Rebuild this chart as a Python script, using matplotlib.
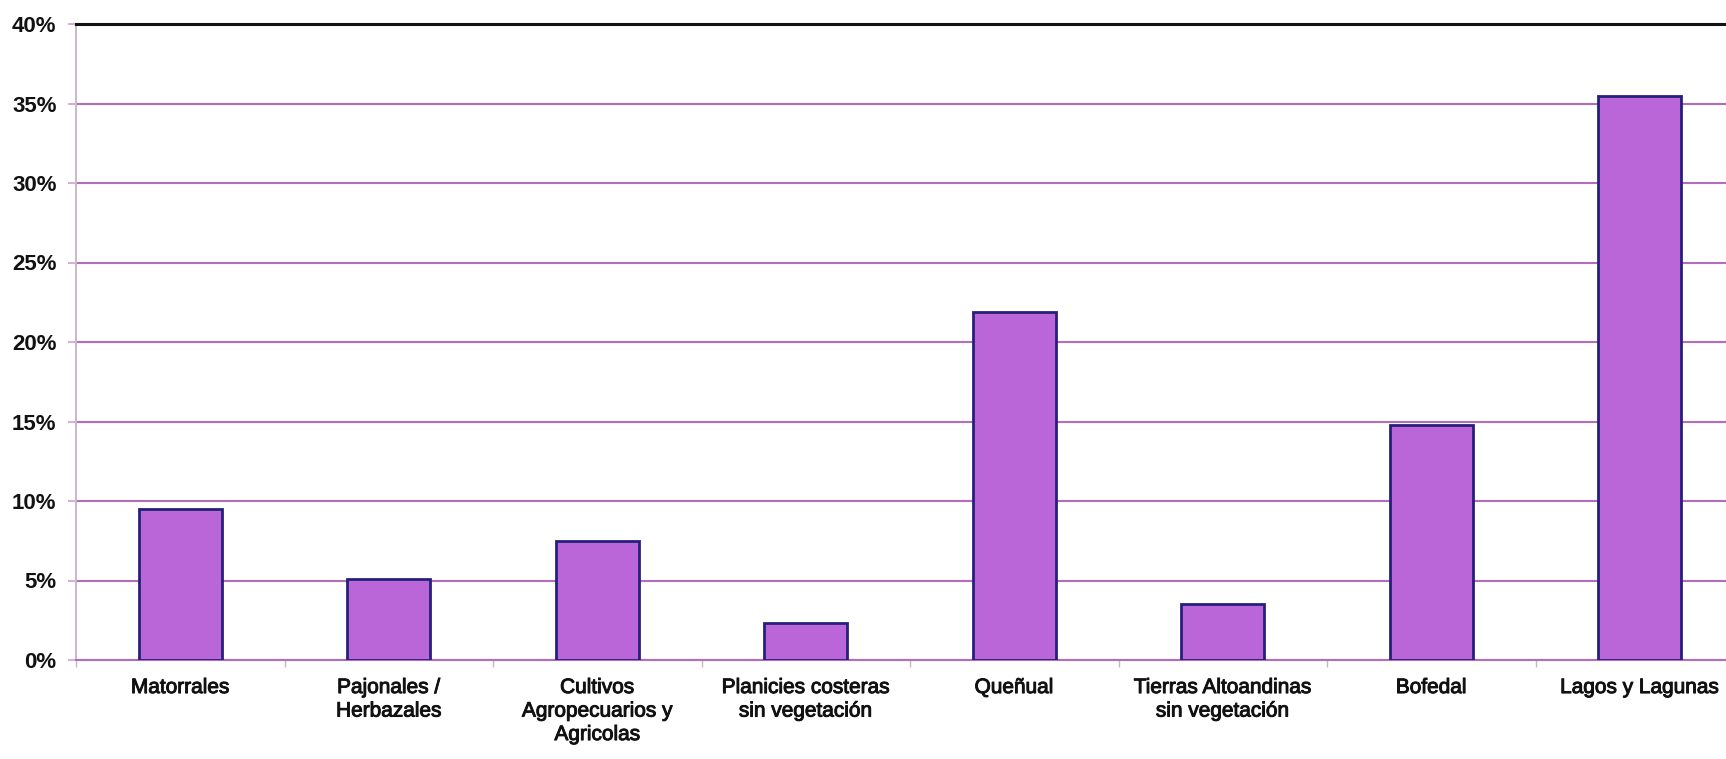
import matplotlib
matplotlib.use("Agg")
import matplotlib.pyplot as plt
import matplotlib.patheffects as pe
from matplotlib.ticker import PercentFormatter, MultipleLocator, FixedLocator

# Share of each land-cover class (percent)
categories = [
    "Matorrales",
    "Pajonales /\nHerbazales",
    "Cultivos\nAgropecuarios y\nAgricolas",
    "Planicies costeras\nsin vegetación",
    "Queñual",
    "Tierras Altoandinas\nsin vegetación",
    "Bofedal",
    "Lagos y Lagunas",
]
values = [9.5, 5.1, 7.5, 2.3, 21.9, 3.5, 14.8, 35.5]
y_ticks = [0, 5, 10, 15, 20, 25, 30, 35, 40]

plt.rcParams["font.family"] = ["Liberation Sans", "DejaVu Sans"]

W, H = 1726, 759
fig = plt.figure(figsize=(W / 100, H / 100), dpi=100)
fig.patch.set_facecolor("white")

# Plot area runs slightly past the right edge of the canvas
left_px, right_px, bottom_px, top_px = 76, 1744, 660, 24
ax = fig.add_axes([left_px / W, (H - bottom_px) / H,
                   (right_px - left_px) / W, (bottom_px - top_px) / H])

grid_col = "#b46cbc"
x = range(len(categories))
ax.bar(x, values, width=0.40, color="#bb66d8", edgecolor="#26207a",
       linewidth=2.0, zorder=3)

ax.set_xlim(-0.5, len(categories) - 0.5)
ax.set_ylim(y_ticks[0], y_ticks[-1])
ax.yaxis.set_major_locator(FixedLocator(y_ticks))
ax.yaxis.set_major_formatter(PercentFormatter(100, decimals=0))

ax.set_axisbelow(True)
ax.yaxis.grid(True, color=grid_col, linewidth=1.5, zorder=0)
ax.xaxis.grid(False)

ax.spines["right"].set_visible(False)
ax.spines["top"].set_color("#111111")
ax.spines["top"].set_linewidth(2.2)
ax.spines["top"].set_zorder(4)
ax.spines["bottom"].set_color(grid_col)
ax.spines["bottom"].set_linewidth(1.5)
ax.spines["left"].set_color("#cdb6cf")
ax.spines["left"].set_linewidth(1.4)

thick = [pe.withStroke(linewidth=0.7, foreground="#111111")]

ax.set_xticks(list(x))
ax.set_xticklabels(categories, fontsize=15, color="#111111", linespacing=1.3)
for lbl in ax.get_xticklabels():
    lbl.set_path_effects(thick)
ax.tick_params(axis="x", which="major", length=0, pad=13)
ax.xaxis.set_minor_locator(MultipleLocator(1, offset=0.5))
ax.tick_params(axis="x", which="minor", length=5, color="#c9b3c9", width=1)

ax.tick_params(axis="y", length=6, color="#c9a2c9", width=1.2, pad=8,
               labelsize=16, labelcolor="#111111")
for lbl in ax.get_yticklabels():
    lbl.set_fontweight("bold")

fig.savefig("out.png", dpi=100, facecolor="white")
